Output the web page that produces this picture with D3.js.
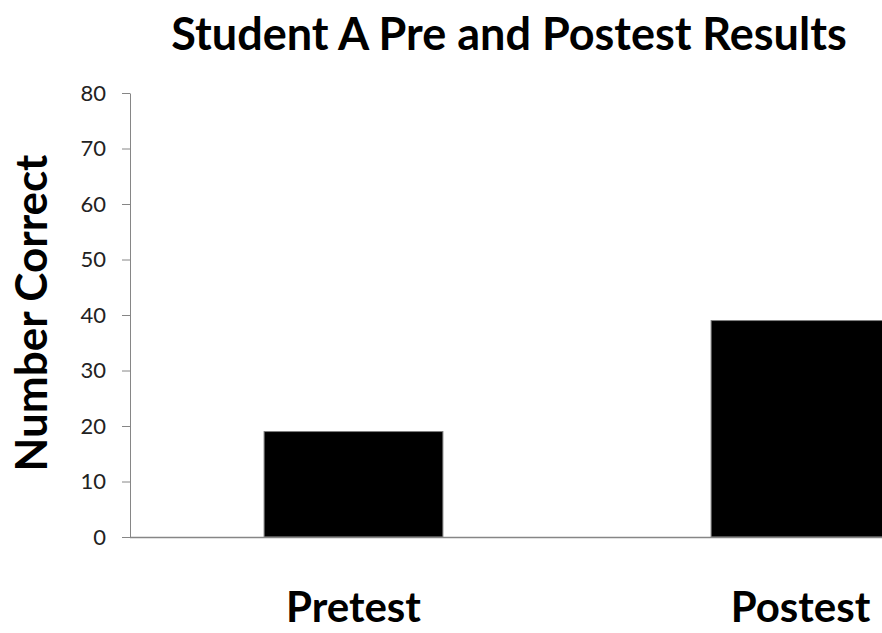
<!DOCTYPE html>
<html><head><meta charset="utf-8">
<script src="https://cdn.jsdelivr.net/npm/d3@7"></script>
<style>body{margin:0;background:#fff;} svg{display:block;}</style>
</head><body>
<svg id="chart" width="882" height="633"></svg>
<script>
const categories = ["Pretest", "Postest"];
const values = [19, 39];
const yTicks = [0, 10, 20, 30, 40, 50, 60, 70, 80];
const title = "Student A Pre and Postest Results";
const yTitle = "Number Correct";

const svg = d3.select("#chart");
const W = 882, H = 633;
const x0 = 130, y0 = 537, yTop = 93;
const font = "Lato, 'Open Sans', sans-serif";

const x = d3.scaleBand().domain(categories).range([x0, 1024]).paddingInner(0.6).paddingOuter(0.3);
const y = d3.scaleLinear().domain([0, 80]).range([y0, yTop]);

// bars
svg.append("g").selectAll("rect").data(values).join("rect")
  .attr("x", (d, i) => x(categories[i]))
  .attr("y", d => y(d))
  .attr("width", x.bandwidth())
  .attr("height", d => y(0) - y(d))
  .attr("fill", "#000")
  .attr("stroke", "#7f7f7f")
  .attr("stroke-width", 1);

// y axis
const yAxis = d3.axisLeft(y).tickValues(yTicks).tickSize(8).tickPadding(16).tickSizeOuter(0);
const gy = svg.append("g").attr("transform", `translate(${x0},0)`).call(yAxis);
gy.select(".domain").attr("stroke", "#868686").attr("stroke-width", 1);
gy.selectAll(".tick line").attr("stroke", "#868686");
gy.selectAll(".tick text").attr("fill", "#222").style("font-family", font).style("font-size", "22px");

// x axis baseline
svg.append("line").attr("x1", x0).attr("x2", W).attr("y1", y0 + 0.5).attr("y2", y0 + 0.5)
  .attr("stroke", "#868686").attr("stroke-width", 1.5);

// x labels
svg.append("g").selectAll("text").data(categories).join("text")
  .attr("x", d => x(d) + x.bandwidth() / 2)
  .attr("y", 622)
  .attr("text-anchor", "middle")
  .style("font-family", font).style("font-weight", "bold").style("font-size", "42px")
  .attr("fill", "#000")
  .text(d => d);

// title
svg.append("text").attr("x", 509).attr("y", 50).attr("text-anchor", "middle")
  .style("font-family", font).style("font-weight", "bold").style("font-size", "45px")
  .attr("fill", "#000").text(title);

// y title
svg.append("text").attr("transform", "translate(47,313) rotate(-90)").attr("text-anchor", "middle")
  .style("font-family", font).style("font-weight", "bold").style("font-size", "44px")
  .attr("fill", "#000").text(yTitle);
</script>
</body></html>
